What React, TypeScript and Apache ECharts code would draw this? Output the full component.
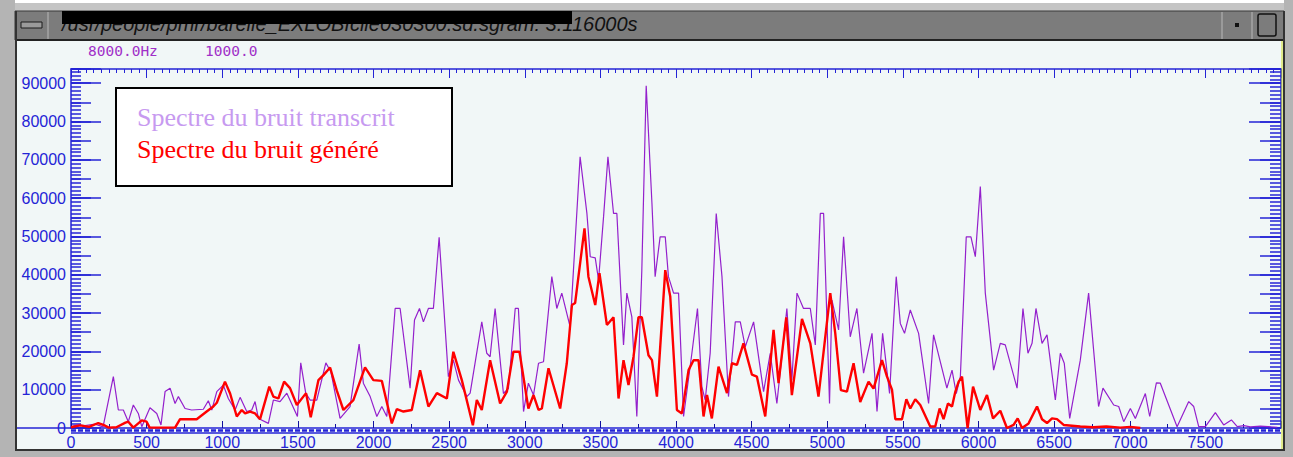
import React, { useEffect, useRef } from "react";
import * as echarts from "echarts";

// ---------- data ----------
const purpleFreq = [0,40,93,159,212,280,313,346,379,412,445,468,522,567,595,622,655,688,710,754,798,875,908,931,964,1007,1040,1085,1118,1162,1195,1217,1239,1305,1338,1382,1427,1497,1519,1552,1581,1625,1685,1718,1779,1845,1905,1933,1978,2022,2055,2088,2143,2176,2242,2271,2304,2330,2363,2396,2434,2495,2528,2562,2617,2639,2716,2749,2771,2804,2859,2892,2937,2958,2992,3024,3058,3091,3124,3179,3212,3245,3300,3366,3411,3433,3466,3488,3521,3550,3587,3609,3653,3675,3708,3741,3774,3803,3841,3862,3895,3929,3950,3984,4017,4050,4105,4142,4171,4193,4226,4266,4304,4347,4392,4425,4458,4513,4579,4623,4667,4733,4766,4800,4843,4888,4921,4954,4976,5015,5031,5075,5108,5152,5196,5240,5296,5329,5366,5412,5438,5456,5483,5511,5549,5604,5670,5703,5791,5825,5853,5880,5919,5950,5979,6012,6045,6100,6144,6177,6255,6294,6327,6354,6380,6420,6453,6508,6541,6567,6603,6673,6728,6794,6823,6894,6927,6960,7004,7037,7103,7132,7176,7202,7313,7390,7423,7456,7500,7566,7621,7672,7711,7755,7798,7864,7976];
const purpleVal = [300,800,600,1000,300,13400,4700,4700,1650,6000,3800,340,5300,3800,800,9500,10400,6400,8200,5100,4700,4900,7100,4700,9500,11200,7700,4700,8000,4300,4700,6900,2500,1200,7300,6900,9100,3000,17000,9100,7300,7300,17000,14700,2500,5600,21900,11700,8200,3000,5600,3000,31200,31200,10400,28200,31200,27700,31200,31200,49800,13400,17700,12500,8200,9100,27700,19500,18600,31200,9000,10300,31200,31200,4300,11700,8600,16900,17300,39500,31200,35200,26400,70800,56000,44700,44400,38600,55100,70800,56000,56000,21700,35200,29000,3000,41200,89300,58600,39500,49900,49900,39500,35200,35200,3000,19500,31200,10800,7300,19500,56000,39500,8200,27700,27700,21200,27700,9500,19500,6400,31200,12500,35200,31200,31200,21700,56000,56000,6400,33400,25600,49900,23800,31200,14300,24700,4300,24700,9000,27300,39500,27300,24700,30800,24700,6400,24300,10400,15100,9000,13400,49900,49900,44700,63000,35200,15100,22100,21700,10400,31200,19500,22100,31200,22100,24300,7300,19500,16900,2500,17700,35200,5600,10400,6000,5600,1650,5100,2500,9000,3000,11800,11700,340,6900,5600,340,340,4000,800,2100,340,600,300,500,200];

const redFreq = [0,60,120,180,214,250,300,360,379,412,468,500,520,600,688,721,831,897,941,964,1018,1052,1096,1129,1151,1184,1217,1250,1311,1338,1371,1409,1448,1493,1554,1585,1636,1669,1713,1757,1801,1867,1944,1999,2055,2121,2154,2198,2253,2308,2363,2419,2485,2528,2584,2657,2683,2716,2771,2837,2882,2925,2965,3024,3058,3091,3113,3157,3234,3278,3312,3333,3395,3421,3466,3494,3543,3587,3620,3653,3686,3719,3752,3774,3818,3841,3874,3929,3962,4006,4039,4083,4116,4149,4182,4205,4237,4281,4337,4370,4403,4446,4502,4535,4590,4645,4678,4729,4766,4833,4888,4942,5020,5053,5090,5130,5174,5218,5273,5306,5362,5395,5428,5450,5494,5523,5549,5582,5615,5681,5714,5743,5769,5798,5825,5847,5869,5891,5928,5964,6012,6056,6096,6144,6188,6232,6259,6288,6331,6387,6420,6453,6486,6519,6563,6673,6759,6845,6938,7004,7070];
const redVal = [200,700,300,1300,800,100,200,1400,1650,100,2000,1650,100,100,100,2300,2300,4300,5600,6600,12100,9000,3000,4700,3800,4300,3800,2300,10800,8200,7700,12100,10400,6000,9100,2800,12500,13800,15800,9800,4700,7300,15800,12500,12300,1200,4900,4300,4700,15100,5600,9100,7700,19900,12500,700,7300,4700,17700,6400,9500,19900,19900,5100,8600,4700,5100,15600,5100,16900,32100,32600,52100,39500,32100,40400,26900,28900,7700,17700,11200,18600,28900,28900,19000,17700,8200,41200,34300,4700,3800,15100,17700,17700,3000,8600,2500,16000,9100,16900,16500,22100,13900,13400,3000,25600,11700,28900,8600,28500,22100,8200,35200,24700,9900,9500,16900,6800,12100,10300,17700,13400,10000,2300,2300,7500,5100,7500,6000,400,400,5100,2300,6400,5600,9500,12100,13400,0,10800,4700,8600,2500,4500,0,800,2500,0,1200,5600,2300,1300,2500,2300,800,400,200,400,100,300,0];

const legendLabels = ["Spectre du bruit transcrit", "Spectre du bruit généré"];
const titleText = "/usr/people/pmr/barelle_EXLOBIclie030300.sd.sgram: 3.116000s";
const headerLabels = ["8000.0Hz", "1000.0"];

const X_MAX = 8000;
const Y_MAX = 93700;

const BLUE = "#2424d6";
const PURPLE = "#9420cc";
const RED = "#ff0000";

export default function App() {
  const ref = useRef<HTMLDivElement>(null);
  useEffect(() => {
    document.body.style.margin = "0";
    const chart = echarts.init(ref.current!, null, { renderer: "svg" });
    const pData = purpleFreq.map((f, i) => [f, purpleVal[i]]);
    const rData = redFreq.map((f, i) => [f, redVal[i]]);

    const yAxisDef = (pos: string, interval: number, len: number, labels: boolean, line: boolean) => ({
      type: "value",
      position: pos,
      min: 0,
      max: Y_MAX,
      interval,
      splitLine: { show: false },
      axisLine: { show: line, onZero: false, lineStyle: { color: BLUE, width: 1.5 } },
      axisTick: { show: true, inside: true, length: len, lineStyle: { color: BLUE, width: 1.5 } },
      axisLabel: labels
        ? {
            show: true,
            color: BLUE,
            fontSize: 16,
            fontFamily: "Liberation Sans",
            margin: 5,
            formatter: (v: number) => (v % 10000 === 0 && v <= 90000 ? String(v) : ""),
          }
        : { show: false },
    });

    const xAxisDef = (pos: string, interval: number, len: number, labels: boolean, line: boolean, color = BLUE) => ({
      type: "value",
      position: pos,
      min: 0,
      max: X_MAX,
      interval,
      splitLine: { show: false },
      axisLine: { show: line, onZero: false, lineStyle: { color: BLUE, width: 1.5 } },
      axisTick: { show: true, inside: true, length: len, lineStyle: { color, width: 1 } },
      axisLabel: labels
        ? {
            show: true,
            color: BLUE,
            fontSize: 16,
            fontFamily: "Liberation Sans",
            margin: 6,
            formatter: (v: number) => (v % 500 === 0 && v < 8000 ? String(v) : ""),
          }
        : { show: false },
    });

    const L = 71, R = 1281, T = 69, B = 428;

    chart.setOption({
      animation: false,
      backgroundColor: "#f1f7f7",
      grid: { left: L, top: T, right: 1293 - R, bottom: 457 - B, containLabel: false },
      xAxis: [
        xAxisDef("bottom", 500, 7, true, true, "#1010a0"),
        xAxisDef("bottom", 250, 4, false, false, "#1010a0"),
        xAxisDef("top", 500, 9, false, true),
        xAxisDef("top", 50, 4, false, false),
      ],
      yAxis: [
        yAxisDef("left", 10000, 30, true, true),
        yAxisDef("left", 5000, 20, false, false),
        yAxisDef("left", 1000, 10, false, false),
        yAxisDef("right", 10000, 32, false, true),
        yAxisDef("right", 5000, 21, false, false),
        yAxisDef("right", 1000, 11, false, false),
      ],
      series: [
        {
          type: "line",
          data: pData,
          xAxisIndex: 0,
          yAxisIndex: 0,
          showSymbol: false,
          lineStyle: { color: PURPLE, width: 1.2 },
          z: 3,
        },
        {
          type: "line",
          data: rData,
          xAxisIndex: 0,
          yAxisIndex: 0,
          showSymbol: false,
          lineStyle: { color: RED, width: 2.4 },
          z: 4,
        },
      ],
      graphic: [
        // window frame
        { type: "rect", shape: { x: 0, y: 0, width: 1293, height: 11 }, style: { fill: "#c4c4c4" }, z: 0 },
        { type: "rect", shape: { x: 0, y: 0, width: 1293, height: 3 }, style: { fill: "#ffffff" }, z: 0 },
        { type: "rect", shape: { x: 0, y: 0, width: 15, height: 457 }, style: { fill: "#b4b4b4" }, z: 0 },
        { type: "rect", shape: { x: 1284, y: 0, width: 9, height: 457 }, style: { fill: "#b4b4b4" }, z: 0 },
        { type: "rect", shape: { x: 0, y: 450, width: 1293, height: 7 }, style: { fill: "#b4b4b4" }, z: 0 },
        { type: "rect", shape: { x: 15, y: 11, width: 1269, height: 29 }, style: { fill: "#7c7c7c", stroke: "#3a3a3a", lineWidth: 1 }, z: 0 },
        { type: "line", shape: { x1: 15, y1: 40, x2: 1284, y2: 40 }, style: { stroke: "#222", lineWidth: 2 }, z: 1 },
        { type: "line", shape: { x1: 16, y1: 11, x2: 16, y2: 451 }, style: { stroke: "#333", lineWidth: 2 }, z: 1 },
        { type: "line", shape: { x1: 1284, y1: 11, x2: 1284, y2: 451 }, style: { stroke: "#333", lineWidth: 2 }, z: 1 },
        { type: "line", shape: { x1: 15, y1: 450, x2: 1284, y2: 450 }, style: { stroke: "#333", lineWidth: 2 }, z: 1 },
        { type: "line", shape: { x1: 1282, y1: 41, x2: 1282, y2: 449 }, style: { stroke: "#d0e020", lineWidth: 1 }, z: 1 },
        // title bar buttons
        { type: "line", shape: { x1: 48, y1: 12, x2: 48, y2: 39 }, style: { stroke: "#b8b8b8", lineWidth: 1 }, z: 1 },
        { type: "rect", shape: { x: 21, y: 22, width: 21, height: 6 }, style: { fill: "#9a9a9a", stroke: "#1a1a1a", lineWidth: 1 }, z: 1 },
        { type: "line", shape: { x1: 1222, y1: 12, x2: 1222, y2: 39 }, style: { stroke: "#b8b8b8", lineWidth: 1 }, z: 1 },
        { type: "line", shape: { x1: 1252, y1: 12, x2: 1252, y2: 39 }, style: { stroke: "#b8b8b8", lineWidth: 1 }, z: 1 },
        { type: "rect", shape: { x: 1235, y: 23, width: 4, height: 4 }, style: { fill: "#111" }, z: 1 },
        { type: "rect", shape: { x: 1258, y: 14, width: 18, height: 22, r: 2 }, style: { fill: "none", stroke: "#111", lineWidth: 1.5 }, z: 1 },
        // title text with redaction bar over its upper half
        {
          type: "text",
          x: 62,
          y: 24,
          style: { text: titleText, fill: "#111", font: "italic 20px 'Liberation Sans'", textVerticalAlign: "middle" },
          z: 2,
        },
        { type: "rect", shape: { x: 62, y: 11, width: 510, height: 13 }, style: { fill: "#000" }, z: 3 },
        // header labels
        {
          type: "text",
          x: 88,
          y: 51,
          style: { text: headerLabels[0], fill: "#a030c8", font: "14.5px 'DejaVu Sans Mono'", textVerticalAlign: "middle" },
          z: 2,
        },
        {
          type: "text",
          x: 205,
          y: 51,
          style: { text: headerLabels[1], fill: "#a030c8", font: "14.5px 'DejaVu Sans Mono'", textVerticalAlign: "middle" },
          z: 2,
        },
        // zero line extension & double dashed base line
        { type: "line", shape: { x1: 17, y1: 428, x2: L, y2: 428 }, style: { stroke: BLUE, lineWidth: 1.5 }, z: 2 },
        { type: "line", shape: { x1: L, y1: 430.5, x2: R, y2: 430.5 }, style: { stroke: BLUE, lineWidth: 2.5, lineDash: [5, 2] }, z: 2 },
        { type: "line", shape: { x1: L, y1: 433, x2: R, y2: 433 }, style: { stroke: BLUE, lineWidth: 1.5 }, z: 2 },
        // legend box
        { type: "rect", shape: { x: 116, y: 88, width: 336, height: 98 }, style: { fill: "#ffffff", stroke: "#000", lineWidth: 2 }, z: 100 },
        {
          type: "text",
          x: 137,
          y: 117,
          style: { text: legendLabels[0], fill: "#c79af0", font: "26px 'Liberation Serif'", textVerticalAlign: "middle" },
          z: 101,
        },
        {
          type: "text",
          x: 137,
          y: 149,
          style: { text: legendLabels[1], fill: RED, font: "26px 'Liberation Serif'", textVerticalAlign: "middle" },
          z: 101,
        },
      ],
    });
    return () => chart.dispose();
  }, []);
  return <div ref={ref} style={{ width: 1293, height: 457 }} />;
}
